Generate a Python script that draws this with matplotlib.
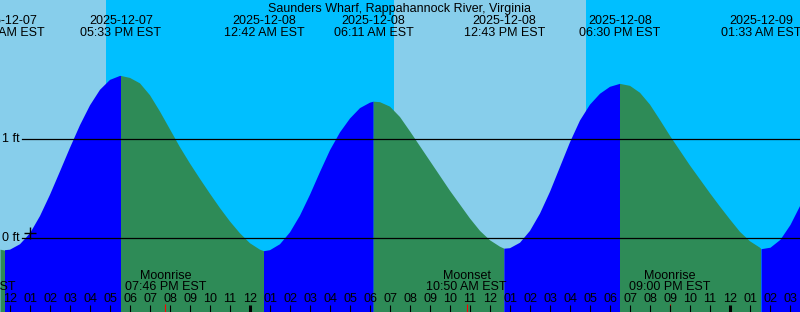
import numpy as np
import pandas as pd
import matplotlib
matplotlib.use('Agg')
from matplotlib import pyplot as plt
import matplotlib.transforms as mtransforms

W, H = 800, 312
plt.rcParams['font.family'] = ['Liberation Sans', 'DejaVu Sans']

title = 'Saunders Wharf, Rappahannock River, Virginia'
t0 = pd.Timestamp('2025-12-07 12:00')

# water level (ft), every half hour from 11:30 AM Dec 7
hours = np.arange(-0.5, 40, 0.5)
heights = [-0.11, -0.115, -0.06, 0.05, 0.225, 0.44, 0.676, 0.915, 1.143, 1.343,
           1.50, 1.60, 1.64, 1.62, 1.565, 1.445, 1.28, 1.10, 0.92, 0.755,
           0.60, 0.45, 0.305, 0.17, 0.05, -0.05, -0.115, -0.12, -0.06, 0.06,
           0.23, 0.44, 0.67, 0.89, 1.07, 1.21, 1.315, 1.37, 1.375, 1.33,
           1.225, 1.08, 0.93, 0.78, 0.63, 0.48, 0.34, 0.20, 0.075, -0.02,
           -0.085, -0.10, -0.045, 0.075, 0.25, 0.47, 0.72, 0.97, 1.19, 1.35,
           1.46, 1.53, 1.56, 1.54, 1.47, 1.35, 1.195, 1.035, 0.885, 0.735,
           0.595, 0.455, 0.32, 0.19, 0.065, -0.03, -0.095, -0.09, -0.01, 0.14,
           0.34]
assert len(heights) == len(hours)

# high / low tides
ext_dates = ['2025-12-07', '2025-12-07', '2025-12-08', '2025-12-08',
             '2025-12-08', '2025-12-08', '2025-12-09']
ext_times = ['11:45 AM', '05:33 PM', '12:42 AM', '06:11 AM',
             '12:43 PM', '06:30 PM', '01:33 AM']
ext_heights = [-0.12, 1.64, -0.13, 1.38, -0.105, 1.56, -0.105]

# moon events
moon_names = ['Moonset', 'Moonrise', 'Moonset', 'Moonrise']
moon_times = ['2025-12-07 10:15 AM', '2025-12-07 07:46 PM',
              '2025-12-08 10:50 AM', '2025-12-08 09:00 PM']

# daylight
day_start = ['2025-12-07 11:00 AM', '2025-12-08 07:12 AM']
day_end = ['2025-12-07 04:48 PM', '2025-12-08 04:48 PM']

now_time = '2025-12-07 01:00 PM'


def hrs(s):
    return (pd.Timestamp(s) - t0) / pd.Timedelta(hours=1)


def fy(px):
    return 1 - px / H


ext_t = np.array([hrs(d + ' ' + t) for d, t in zip(ext_dates, ext_times)])

fig = plt.figure(figsize=(W / 100, H / 100), dpi=100)
ax = fig.add_axes([0, 0, 1, 1])
ax.set_axis_off()
ax.set_xlim(-0.5, 39.5)
ax.set_ylim((238.3 - H) / 99, 238.3 / 99)
trans = mtransforms.blended_transform_factory(ax.transData, ax.transAxes)

ax.add_patch(plt.Rectangle((0, 0), 1, 1, transform=ax.transAxes,
                           color='#00BFFF', zorder=0))
for a, b in zip(day_start, day_end):
    ax.axvspan(hrs(a), hrs(b), color='#87CEEB', lw=0, zorder=0.5)

# tide fill, blue while rising, green while falling
t_all = np.concatenate([hours, ext_t])
h_all = np.concatenate([heights, ext_heights])
order = np.argsort(t_all)
t_all, h_all = t_all[order], h_all[order]
bounds = [hours[0]] + list(ext_t) + [hours[-1]]
for a, b in zip(bounds[:-1], bounds[1:]):
    m = (t_all >= a) & (t_all <= b)
    st, sh = t_all[m], h_all[m]
    c = '#0000FF' if sh[-1] > sh[0] else '#2E8B57'
    ax.fill_between(st, sh, -2, color=c, lw=0, zorder=1)

for lev, lab in [(1, '1 ft'), (0, '0 ft')]:
    ax.plot([0.6, 39.5], [lev, lev], color='black', lw=0.9, zorder=2)
    ax.text(2.5 / W, lev, lab, transform=mtransforms.blended_transform_factory(
        ax.transAxes, ax.transData), ha='left', va='center', fontsize=9)

tn = hrs(now_time)
ax.plot(tn, np.interp(tn, hours, heights), marker='+', color='black',
        ms=8, mew=1, zorder=3)

# labels
ax.text(0.5, fy(12), title, transform=ax.transAxes, ha='center',
        va='baseline', fontsize=9)
for t, d, tm in zip(ext_t, ext_dates, ext_times):
    ax.text(t, fy(24), d, transform=trans, ha='center', va='baseline', fontsize=9)
    ax.text(t, fy(36), tm + ' EST', transform=trans, ha='center',
            va='baseline', fontsize=9)

for name, s in zip(moon_names, moon_times):
    t = hrs(s)
    ax.text(t, fy(279), name, transform=trans, ha='center', va='baseline', fontsize=9)
    ax.text(t, fy(290), pd.Timestamp(s).strftime('%I:%M %p') + ' EST',
            transform=trans, ha='center', va='baseline', fontsize=9)
    ax.vlines(t, fy(312), fy(304), transform=trans, color='red', lw=0.8, zorder=3)

hour_times = pd.date_range(t0, periods=40, freq='h')
for ts in hour_times:
    t = (ts - t0) / pd.Timedelta(hours=1)
    ax.text(t, fy(302), ts.strftime('%I'), transform=trans, ha='center',
            va='baseline', fontsize=9)
    lw = 2.2 if ts.hour == 0 else 0.8
    ax.vlines(t, fy(312), fy(305), transform=trans, color='black', lw=lw, zorder=3)

fig.savefig('out.png', dpi=100)
